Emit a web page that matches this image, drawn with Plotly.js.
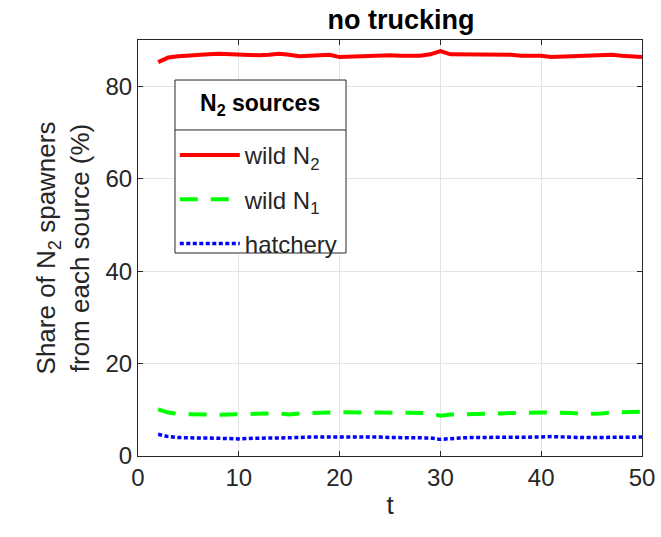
<!DOCTYPE html>
<html>
<head>
<meta charset="utf-8">
<script src="https://cdn.plot.ly/plotly-3.0.1.min.js"></script>
<style>html,body{margin:0;padding:0;background:#fff}</style>
</head>
<body>
<div id="chart" style="width:661px;height:537px"></div>
<script>
const t = [2,3,4,5,6,7,8,9,10,11,12,13,14,15,16,17,18,19,20,21,22,23,24,25,26,27,28,29,30,31,32,33,34,35,36,37,38,39,40,41,42,43,44,45,46,47,48,49,50];
const wildN2 = [85.2,86.2,86.5,86.7,86.8,86.9,87.0,86.9,87.0,86.9,86.7,86.8,87.0,86.8,86.5,86.6,86.8,86.8,86.3,86.4,86.6,86.6,86.7,86.7,86.6,86.5,86.6,86.9,87.6,86.9,86.9,87.0,86.9,86.9,86.9,86.8,86.6,86.6,86.6,86.3,86.4,86.6,86.7,86.8,86.9,86.8,86.6,86.5,86.3];
const wildN1 = [10.1,9.4,9.1,9.0,9.0,8.9,8.9,9.0,9.1,9.2,9.2,9.2,9.2,9.0,9.2,9.2,9.3,9.4,9.5,9.4,9.4,9.4,9.4,9.4,9.4,9.4,9.4,9.3,8.7,9.0,9.0,9.0,9.0,9.2,9.2,9.3,9.4,9.4,9.4,9.4,9.4,9.3,9.1,9.1,9.2,9.4,9.5,9.5,9.6];
const hatchery = [4.7,4.2,4.0,3.9,3.9,3.9,3.8,3.8,3.7,3.8,3.9,3.9,3.9,3.9,4.0,4.1,4.1,4.2,4.2,4.1,4.1,4.1,4.1,4.0,4.0,4.0,4.0,3.9,3.6,3.8,3.9,4.0,4.0,4.0,4.0,4.0,4.0,4.0,4.1,4.2,4.1,4.0,4.0,4.0,4.0,4.0,4.0,4.0,4.1];
const xTicks = [0,10,20,30,40,50];
const yTicks = [0,20,40,60,80];
const legendTitle = '<b>N<sub>2</sub> sources</b>';

const font = 'Liberation Sans, Arial, sans-serif';
const traces = [
  {x:t, y:wildN2, name:'wild N<sub>2</sub>', legendgroup:'a', mode:'lines', line:{color:'#ff0000', width:4}},
  {x:t, y:wildN1, name:'wild N<sub>1</sub>', legendgroup:'b', mode:'lines', line:{color:'#00ff00', width:4, dash:'18px,13px'}},
  {x:t, y:hatchery, name:'hatchery', legendgroup:'c', mode:'lines', line:{color:'#0000ff', width:3.5, dash:'4px,2.5px'}}
];
const axisCommon = {
  showline:true, linecolor:'#262626', linewidth:1, mirror:'ticks',
  ticks:'inside', ticklen:5, tickcolor:'#262626',
  showgrid:true, gridcolor:'#e3e3e3', gridwidth:1,
  zeroline:false, tickfont:{family:font, size:24, color:'#262626'}
};
const layout = {
  width:661, height:537,
  margin:{l:138, r:19, t:40, b:81},
  paper_bgcolor:'#ffffff', plot_bgcolor:'#ffffff',
  title:{text:'<b>no trucking</b>', font:{family:font, size:27, color:'#000'}, x:0.522, xref:'paper', xanchor:'center', yref:'container', y:0.964, yanchor:'middle'},
  xaxis:Object.assign({}, axisCommon, {range:[0,50], tickvals:xTicks, title:{text:'t', font:{family:font, size:26, color:'#262626'}, standoff:6}}),
  yaxis:Object.assign({}, axisCommon, {range:[0,90], tickvals:yTicks, title:{text:'Share of N<sub>2</sub> spawners<br>from each source (%)', font:{family:font, size:26, color:'#262626'}, standoff:8}}),
  showlegend:true,
  legend:{
    x:0.073, y:0.7764, xanchor:'left', yanchor:'top', traceorder:'grouped',
    bgcolor:'rgba(0,0,0,0)', borderwidth:0,
    font:{family:font, size:24, color:'#262626'},
    tracegroupgap:10, itemwidth:60
  },
  shapes:[
    {type:'rect', xref:'paper', yref:'paper', x0:0.0734, x1:0.4127, y0:0.488, y1:0.9038, line:{color:'#262626', width:1}, fillcolor:'#ffffff', layer:'above'},
    {type:'line', xref:'paper', yref:'paper', x0:0.0734, x1:0.4127, y0:0.7837, y1:0.7837, line:{color:'#262626', width:1}, layer:'above'}
  ],
  annotations:[
    {text:legendTitle, xref:'paper', yref:'paper', x:0.243, y:0.8438, xanchor:'center', yanchor:'middle', showarrow:false, font:{family:font, size:23, color:'#000'}}
  ]
};
Plotly.newPlot('chart', traces, layout, {displayModeBar:false, staticPlot:true});
</script>
</body>
</html>
